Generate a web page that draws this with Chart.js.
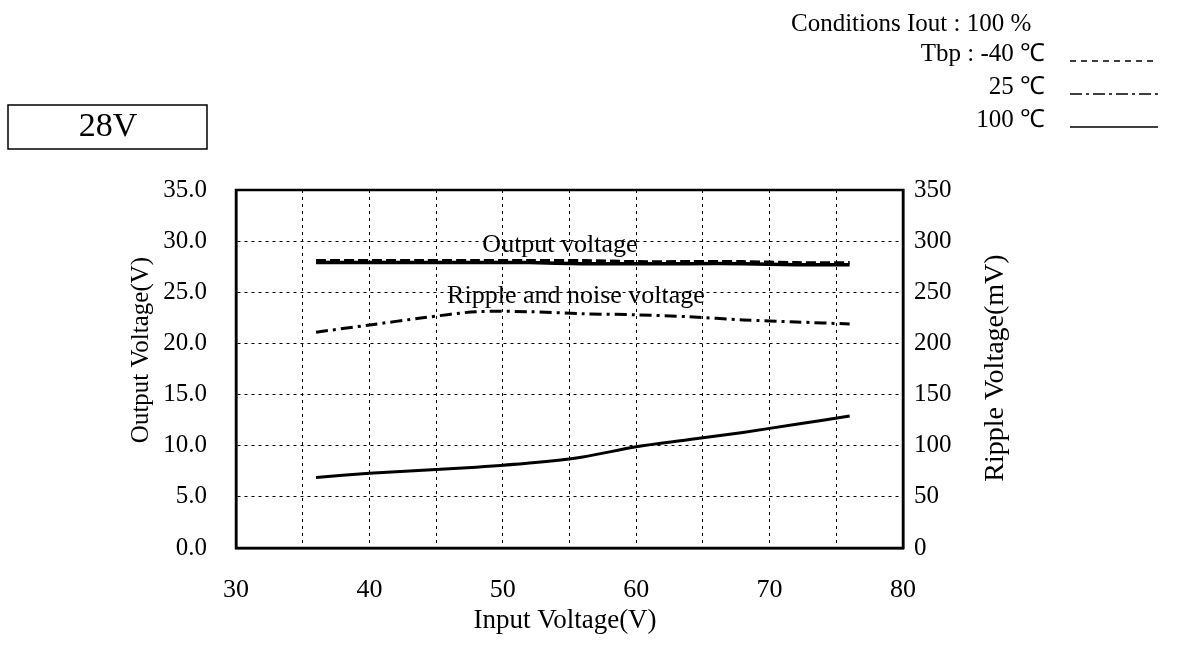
<!DOCTYPE html>
<html>
<head>
<meta charset="utf-8">
<script src="https://cdn.jsdelivr.net/npm/chart.js@4"></script>
<style>
  body { margin: 0; background: #fff; }
  #wrap { width: 1191px; height: 657px; position: relative; }
</style>
</head>
<body>
<div id="wrap"><canvas id="grafico" width="1191" height="657"></canvas></div>
<script>
// Data
const inputVoltage = [36, 40, 44, 48, 52, 56, 60, 64, 68, 72, 76];
const outputMinus40 = [28.1, 28.1, 28.1, 28.1, 28.1, 28.1, 28.0, 28.0, 28.0, 27.9, 27.9];
const output100 = [27.9, 27.9, 27.9, 27.9, 27.9, 27.8, 27.8, 27.8, 27.8, 27.7, 27.7];
const ripple25 = [211, 218, 225, 231, 231, 229, 228, 226, 223, 221, 219];
const ripple100 = [69, 73, 76, 79, 83, 89, 99, 106, 113, 121, 129];

const xTicks = [30, 40, 50, 60, 70, 80];
const legendRows = ["Tbp : -40 \u2103", "25 \u2103", "100 \u2103"];

const FONT = "'Liberation Serif', 'Times New Roman', serif";
const AREA = { left: 236, right: 903, top: 190, bottom: 548 };

function pontos(xs, ys) {
  return xs.map((x, i) => ({ x: x, y: ys[i] }));
}

// Texts, frame and legend drawn on the canvas
const textos = {
  id: 'textos',
  afterDatasetsDraw(chart) {
    const ctx = chart.ctx;
    const a = chart.chartArea;
    ctx.save();
    ctx.fillStyle = '#000';
    ctx.strokeStyle = '#000';

    // plot frame
    ctx.lineWidth = 2.5;
    ctx.setLineDash([]);
    ctx.strokeRect(a.left, a.top, a.right - a.left, a.bottom - a.top);

    // curve labels
    ctx.font = '26px ' + FONT;
    ctx.textAlign = 'center';
    ctx.textBaseline = 'middle';
    ctx.fillText('Output voltage', 560, 245);
    ctx.fillText('Ripple and noise voltage', 576, 296);

    // axis titles
    ctx.font = '27px ' + FONT;
    ctx.fillText('Input Voltage(V)', 565, 621);
    ctx.save();
    ctx.font = '25px ' + FONT;
    ctx.translate(141, 350);
    ctx.rotate(-Math.PI / 2);
    ctx.fillText('Output Voltage(V)', 0, 0);
    ctx.restore();
    ctx.save();
    ctx.font = '28px ' + FONT;
    ctx.translate(996, 368);
    ctx.rotate(-Math.PI / 2);
    ctx.fillText('Ripple Voltage(mV)', 0, 0);
    ctx.restore();

    // 28V box
    ctx.lineWidth = 1.5;
    ctx.strokeRect(8, 105, 199, 44);
    ctx.font = '34px ' + FONT;
    ctx.fillText('28V', 108, 127);

    // conditions legend
    ctx.font = '25px ' + FONT;
    ctx.textAlign = 'left';
    ctx.fillText('Conditions Iout : 100 %', 791, 24);
    ctx.textAlign = 'right';
    const ys = [54, 87, 120];
    const estilos = [[6, 5], [12, 4, 3, 4], []];
    legendRows.forEach((t, i) => {
      ctx.fillText(t, 1045, ys[i]);
      ctx.setLineDash(estilos[i]);
      ctx.lineWidth = 1.5;
      ctx.beginPath();
      ctx.moveTo(1070, ys[i] + 7);
      ctx.lineTo(1158, ys[i] + 7);
      ctx.stroke();
    });
    ctx.restore();
  }
};

const ctx = document.getElementById('grafico');

new Chart(ctx, {
  type: 'line',
  data: {
    datasets: [
      {
        label: 'Output -40',
        data: pontos(inputVoltage, outputMinus40),
        yAxisID: 'y',
        borderColor: '#000',
        borderWidth: 3,
        borderDash: [10, 4],
        pointRadius: 0,
        tension: 0.3
      },
      {
        label: 'Output 100',
        data: pontos(inputVoltage, output100),
        yAxisID: 'y',
        borderColor: '#000',
        borderWidth: 3.5,
        pointRadius: 0,
        tension: 0.3
      },
      {
        label: 'Ripple 25',
        data: pontos(inputVoltage, ripple25),
        yAxisID: 'y2',
        borderColor: '#000',
        borderWidth: 3,
        borderDash: [12, 5, 3, 5],
        pointRadius: 0,
        tension: 0.3
      },
      {
        label: 'Ripple 100',
        data: pontos(inputVoltage, ripple100),
        yAxisID: 'y2',
        borderColor: '#000',
        borderWidth: 3,
        pointRadius: 0,
        tension: 0.3
      }
    ]
  },
  options: {
    responsive: false,
    animation: false,
    devicePixelRatio: 1,
    layout: { padding: { top: AREA.top, left: 0, right: 0, bottom: 0 } },
    plugins: {
      legend: { display: false },
      tooltip: { enabled: false }
    },
    scales: {
      x: {
        type: 'linear',
        min: 30,
        max: 80,
        afterBuildTicks(scale) {
          scale.ticks = [];
          for (let v = 30; v <= 80; v += 5) scale.ticks.push({ value: v });
        },
        afterFit(scale) { scale.height = 657 - AREA.bottom; },
        ticks: {
          color: '#000',
          font: { family: FONT, size: 26 },
          padding: 27,
          maxRotation: 0,
          autoSkip: false,
          callback: (v) => xTicks.includes(v) ? String(v) : ''
        },
        grid: { color: '#000', lineWidth: 1, drawTicks: false },
        border: { display: true, color: '#000', width: 2.5, dash: [3, 4] }
      },
      y: {
        position: 'left',
        min: 0,
        max: 35,
        afterFit(scale) { scale.width = AREA.left; },
        ticks: {
          stepSize: 5,
          color: '#000',
          font: { family: FONT, size: 25 },
          padding: 29,
          callback: (v) => v.toFixed(1)
        },
        grid: { color: '#000', lineWidth: 1, drawTicks: false },
        border: { display: true, color: '#000', width: 2.5, dash: [3, 4] }
      },
      y2: {
        position: 'right',
        min: 0,
        max: 350,
        afterFit(scale) { scale.width = 1191 - AREA.right; },
        ticks: {
          stepSize: 50,
          color: '#000',
          font: { family: FONT, size: 25 },
          padding: 11
        },
        grid: { drawOnChartArea: false, drawTicks: false },
        border: { display: true, color: '#000', width: 2.5 }
      }
    }
  },
  plugins: [textos]
});
</script>
</body>
</html>
